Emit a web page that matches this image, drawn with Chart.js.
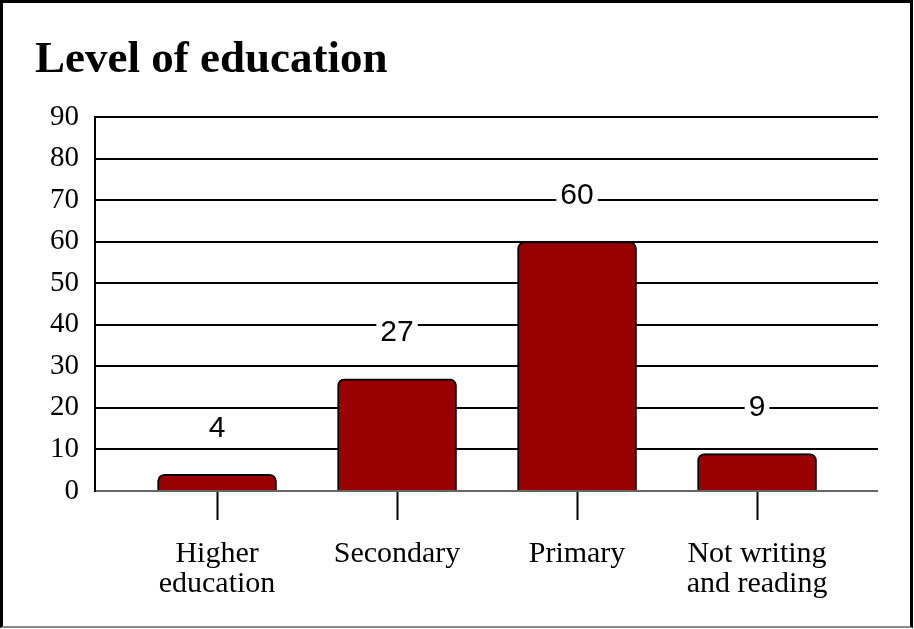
<!DOCTYPE html>
<html>
<head>
<meta charset="utf-8">
<script src="https://cdn.jsdelivr.net/npm/chart.js@4/dist/chart.umd.min.js"></script>
<style>
  body { margin: 0; background: #fff; }
  #wrap { position: relative; width: 914px; height: 629px; }
  #chart { position: absolute; left: 0; top: 0; }
  #frame {
    position: absolute; left: 0; top: 0; width: 913px; height: 628px;
    box-sizing: border-box; border: 3px solid #000; border-bottom: 2px solid #888;
    pointer-events: none;
  }
</style>
</head>
<body>
<div id="wrap">
  <canvas id="chart" width="914" height="629"></canvas>
  <div id="frame"></div>
</div>
<script>
// data
const categories = [['Higher', 'education'], 'Secondary', 'Primary', ['Not writing', 'and reading']];
const counts = [4, 27, 60, 9];
const yTicks = [0, 10, 20, 30, 40, 50, 60, 70, 80, 90];

const serif = '"Liberation Serif", "Times New Roman", serif';
const sans = '"Liberation Sans", Arial, sans-serif';

// numbers above bars, on a white patch so the grid line breaks around them
const valueLabels = {
    id: 'valueLabels',
    afterDatasetsDraw(chart) {
        const ctx = chart.ctx;
        const meta = chart.getDatasetMeta(0);
        ctx.save();
        ctx.font = '30px ' + sans;
        ctx.textAlign = 'center';
        ctx.textBaseline = 'middle';
        meta.data.forEach((bar, i) => {
            const txt = String(counts[i]);
            const y = bar.y - 47;
            const w = ctx.measureText(txt).width;
            ctx.fillStyle = '#fff';
            ctx.fillRect(bar.x - w / 2 - 4, y - 12, w + 8, 24);
            ctx.fillStyle = '#000';
            ctx.fillText(txt, bar.x, y + 1);
        });
        ctx.restore();
    }
};

const ctx = document.getElementById('chart').getContext('2d');
new Chart(ctx, {
    type: 'bar',
    data: {
        datasets: [{
            data: counts.map((v, i) => ({ x: i, y: v })),
            backgroundColor: '#990000',
            borderColor: '#000',
            borderWidth: 2,
            borderRadius: 7,
            borderSkipped: 'bottom',
            barThickness: 119
        }]
    },
    options: {
        responsive: false,
        animation: false,
        layout: { padding: { left: 35, right: 36, top: 0, bottom: 0 } },
        plugins: {
            legend: { display: false },
            tooltip: { enabled: false },
            title: {
                display: true,
                text: 'Level of education',
                align: 'start',
                color: '#000',
                font: { family: serif, size: 45, weight: 'bold', lineHeight: 1.2 },
                padding: { top: 33, bottom: 30 }
            }
        },
        scales: {
            x: {
                type: 'linear',
                offset: false,
                min: -0.678,
                max: 3.672,
                afterFit: s => { s.height = 138; },
                ticks: {
                    stepSize: 1,
                    includeBounds: false,
                    autoSkip: false,
                    maxRotation: 0,
                    color: '#000',
                    padding: 20,
                    font: { family: serif, size: 30, lineHeight: 0.97 },
                    callback: v => categories[v]
                },
                grid: {
                    offset: false,
                    drawOnChartArea: false,
                    drawTicks: true,
                    tickLength: 29,
                    tickWidth: 2,
                    tickColor: '#000'
                },
                border: { display: false }
            },
            y: {
                min: 0,
                max: 90,
                afterFit: s => { s.width = 60; },
                afterBuildTicks: s => { s.ticks = yTicks.map(v => ({ value: v })); },
                ticks: {
                    color: '#000',
                    padding: 16,
                    font: { family: serif, size: 29 }
                },
                grid: {
                    drawTicks: false,
                    lineWidth: 2,
                    color: c => (c.tick && c.tick.value === 0 ? '#666' : '#000')
                },
                border: { display: true, color: '#000', width: 2 }
            }
        }
    },
    plugins: [valueLabels]
});
</script>
</body>
</html>
